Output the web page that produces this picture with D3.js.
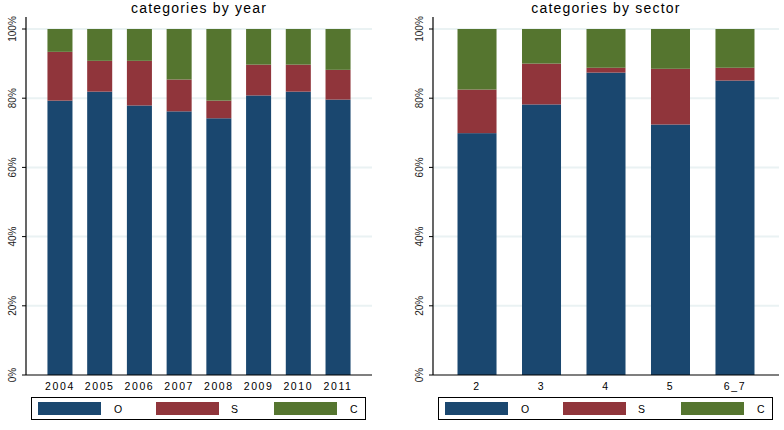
<!DOCTYPE html>
<html>
<head>
<meta charset="utf-8">
<script src="https://cdn.jsdelivr.net/npm/d3@7"></script>
<style>
  body { margin: 0; background: #fff; }
  text { font-family: "Liberation Sans", Arial, sans-serif; fill: #000; }
</style>
</head>
<body>
<div id="chart"></div>
<script>
var w = 784, h = 430;

var seriesNames = ["O", "S", "C"];
var colors = ["#1a476f", "#90353b", "#55752f"];
var yTicks = [0, 20, 40, 60, 80, 100];

// panel 1: by year (percent shares)
var years = ["2004", "2005", "2006", "2007", "2008", "2009", "2010", "2011"];
var yearO = [79.3, 81.9, 77.9, 76.2, 74.2, 80.8, 81.9, 79.6];
var yearS = [14.1, 8.9, 12.9, 9.2, 5.1, 8.9, 7.8, 8.6];
var yearC = [6.6, 9.2, 9.2, 14.6, 20.7, 10.3, 10.3, 11.8];

// panel 2: by sector
var sectors = ["2", "3", "4", "5", "6_7"];
var sectorO = [69.9, 78.2, 87.4, 72.4, 85.1];
var sectorS = [12.6, 11.8, 1.4, 16.1, 3.7];
var sectorC = [17.5, 10.0, 11.2, 11.5, 11.2];

var svg = d3.select("#chart").append("svg")
  .attr("width", w)
  .attr("height", h);

function drawPanel(opt) {
  var g = svg.append("g");
  var x0 = opt.left, x1 = opt.right, yTop = 17, y0 = 375, y100 = 29;

  var y = d3.scaleLinear().domain([0, 100]).range([y0, y100]);
  var x = d3.scaleBand().domain(opt.cats).range([x0, x1])
    .paddingInner(opt.pi).paddingOuter(opt.po);

  // gridlines
  g.selectAll("line.grid")
    .data(yTicks.filter(d => d > 0))
    .enter().append("line")
    .attr("class", "grid")
    .attr("x1", x0).attr("x2", x1)
    .attr("y1", d => y(d)).attr("y2", d => y(d))
    .attr("stroke", "#eaf2f3")
    .attr("stroke-width", 2);

  var rows = opt.cats.map((c, i) => ({ cat: c, O: opt.O[i], S: opt.S[i], C: opt.C[i] }));
  var stack = d3.stack().keys(seriesNames)(rows);

  g.selectAll("g.series")
    .data(stack)
    .enter().append("g")
    .attr("fill", (_, i) => colors[i])
    .selectAll("rect")
    .data(d => d)
    .enter().append("rect")
    .attr("x", d => x(d.data.cat))
    .attr("width", x.bandwidth())
    .attr("y", d => y(d[1]))
    .attr("height", d => y(d[0]) - y(d[1]));

  // axes
  g.append("line")
    .attr("x1", x0).attr("x2", x0).attr("y1", yTop).attr("y2", y0)
    .attr("stroke", "#000").attr("stroke-width", 1.2);
  g.append("line")
    .attr("x1", x0).attr("x2", x1).attr("y1", y0).attr("y2", y0)
    .attr("stroke", "#000").attr("stroke-width", 1.2);

  g.selectAll("line.ytick")
    .data(yTicks)
    .enter().append("line")
    .attr("x1", x0 - 4).attr("x2", x0)
    .attr("y1", d => y(d)).attr("y2", d => y(d))
    .attr("stroke", "#000");

  g.selectAll("text.ylab")
    .data(yTicks)
    .enter().append("text")
    .attr("transform", d => `translate(${x0 - 10},${y(d)})rotate(-90)`)
    .attr("text-anchor", "middle")
    .style("font-size", "10px")
    .style("fill", "#222")
    .text(d => d + "%");

  g.selectAll("text.xlab")
    .data(opt.cats)
    .enter().append("text")
    .attr("x", d => x(d) + x.bandwidth() / 2)
    .attr("y", 390)
    .attr("text-anchor", "middle")
    .style("font-size", "10.5px")
    .style("letter-spacing", "1.6px")
    .text(d => d);

  g.append("text")
    .attr("x", (x0 + x1) / 2)
    .attr("y", 13)
    .attr("text-anchor", "middle")
    .style("font-size", "14px")
    .style("letter-spacing", "1.2px")
    .text(opt.title);

  // legend
  var lx = opt.legendX;
  g.append("rect")
    .attr("x", lx).attr("y", 397.5)
    .attr("width", 334).attr("height", 22)
    .attr("fill", "#fff").attr("stroke", "#000");
  seriesNames.forEach((s, i) => {
    g.append("rect")
      .attr("x", lx + 6.5 + i * 118).attr("y", 402)
      .attr("width", 63).attr("height", 13)
      .attr("fill", colors[i]);
    g.append("text")
      .attr("x", lx + 82.5 + i * 118 - (i === 1 ? 1 : 0))
      .attr("y", 412.5)
      .style("font-size", "10.5px")
      .text(s);
  });
}

drawPanel({ title: "categories by year", cats: years, O: yearO, S: yearS, C: yearC,
  left: 26, right: 372, pi: 0.37, po: 0.54, legendX: 31.5 });
drawPanel({ title: "categories by sector", cats: sectors, O: sectorO, S: sectorS, C: sectorC,
  left: 433, right: 779, pi: 0.395, po: 0.38, legendX: 438.5 });
</script>
</body>
</html>
